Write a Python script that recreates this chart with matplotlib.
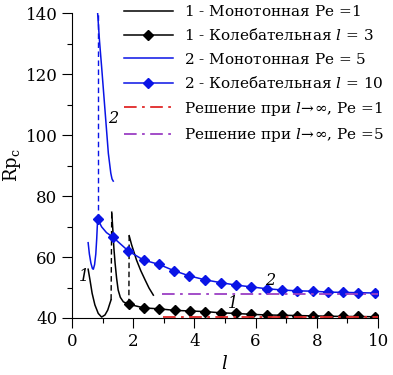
import numpy as np
import matplotlib.pyplot as plt
from matplotlib.ticker import MultipleLocator

plt.rcParams['font.family'] = ['DejaVu Serif']
plt.rcParams['mathtext.fontset'] = 'dejavuserif'

# curve 1, monotone Pe=1 (three branches)
m1a_x = [0.53, 0.59, 0.66, 0.75, 0.86, 0.97, 1.08, 1.17, 1.24, 1.28]
m1a_y = [56.0, 52.5, 48.1, 44.3, 41.5, 40.3, 41.0, 42.6, 44.8, 46.0]
m1b_x = [1.30, 1.33, 1.37, 1.41, 1.46, 1.51, 1.58, 1.68, 1.86]
m1b_y = [74.7, 70.0, 63.0, 58.0, 53.0, 49.2, 46.8, 45.3, 44.5]
m1c_x = [1.87, 1.95, 2.11, 2.25, 2.39, 2.52, 2.66]
m1c_y = [67.0, 64.0, 59.0, 55.5, 52.5, 49.8, 47.5]

# curve 2, monotone Pe=5 (two branches)
m2a_x = [0.53, 0.57, 0.62, 0.67, 0.70, 0.74, 0.78, 0.81, 0.84]
m2a_y = [64.7, 61.0, 58.0, 56.2, 56.0, 57.5, 61.0, 66.0, 72.5]
m2b_x = [0.84, 0.90, 0.97, 1.08, 1.19, 1.27, 1.31, 1.35]
m2b_y = [140.0, 131.0, 122.4, 108.2, 94.0, 87.5, 85.6, 84.9]

# oscillatory curves
o1_x = [1.86, 2.36, 2.86, 3.36, 3.86, 4.36, 4.86, 5.36, 5.86, 6.36,
        6.86, 7.36, 7.86, 8.36, 8.86, 9.36, 9.9]
o1_y = [44.5, 43.3, 43.0, 42.5, 42.3, 42.1, 41.7, 41.5, 41.2, 41.0,
        40.9, 40.8, 40.7, 40.6, 40.5, 40.5, 40.4]
o2_x = [0.84, 0.97, 1.13, 1.34, 1.84, 2.34, 2.84, 3.34, 3.84, 4.36, 4.86,
        5.36, 5.86, 6.36, 6.86, 7.36, 7.86, 8.36, 8.86, 9.36, 9.9]
o2_y = [72.5, 69.9, 68.0, 66.5, 62.0, 59.0, 57.6, 55.5, 53.8, 52.5, 51.6,
        50.8, 50.2, 49.6, 49.2, 48.9, 48.8, 48.5, 48.4, 48.3, 48.2]
o2_marks = [0] + list(range(3, len(o2_x)))

# asymptotic solutions l -> inf
inf1_x = [2.98, 10]
inf1_y = [40.35, 40.35]
inf5_x = [2.95, 10]
inf5_y = [47.8, 47.8]

fig = plt.figure(figsize=(3.93, 3.75), dpi=100)
ax = fig.add_axes([0.183, 0.152, 0.779, 0.813])

blue = '#0a14e6'
lw = 1.1
ax.plot(m1a_x, m1a_y, color='black', lw=lw,
        label=r'$\mathit{1}$ - Монотонная Pe =1')
ax.plot(m1b_x, m1b_y, color='black', lw=lw)
ax.plot(m1c_x, m1c_y, color='black', lw=lw)
ax.plot([m1a_x[-1], m1b_x[0]], [m1a_y[-1], m1b_y[0]], color='black', lw=1.0, ls=(0, (4, 2.5)))
ax.plot([m1b_x[-1], m1c_x[0]], [m1b_y[-1], m1c_y[0]], color='black', lw=1.0, ls=(0, (4, 2.5)))
ax.plot(o1_x, o1_y, color='black', lw=lw, marker='D', ms=5,
        label=r'$\mathit{1}$ - Колебательная $l$ = 3')

ax.plot(m2a_x, m2a_y, color=blue, lw=lw,
        label=r'$\mathit{2}$ - Монотонная Pe = 5')
ax.plot(m2b_x, m2b_y, color=blue, lw=lw)
ax.plot([o2_x[0], m2b_x[0]], [o2_y[0], m2b_y[0]], color=blue, lw=1.0, ls=(0, (4, 2.5)))
ax.plot(o2_x, o2_y, color=blue, lw=lw, marker='D', ms=5, markevery=o2_marks,
        label=r'$\mathit{2}$ - Колебательная $l$ = 10')

ax.plot(inf1_x, inf1_y, color='#e02828', lw=1.3, ls=(0, (7, 3, 1.5, 3)),
        label=r'Решение при $l\!\rightarrow\!\infty$, Pe =1')
ax.plot(inf5_x, inf5_y, color='#9b3fc4', lw=1.3, ls=(0, (7, 3, 1.5, 3)),
        label=r'Решение при $l\!\rightarrow\!\infty$, Pe =5')

ax.text(1.35, 105.5, '2', fontsize=11.5, style='italic', ha='center', va='center')
ax.text(0.39, 53.5, '1', fontsize=11.5, style='italic', ha='center', va='center')
ax.text(6.47, 52.2, '2', fontsize=11.5, style='italic', ha='center', va='center')
ax.text(5.25, 44.6, '1', fontsize=11.5, style='italic', ha='center', va='center')

ax.set_xlim(0, 10)
ax.set_ylim(40, 140)
ax.xaxis.set_major_locator(MultipleLocator(2))
ax.xaxis.set_minor_locator(MultipleLocator(1))
ax.yaxis.set_major_locator(MultipleLocator(20))
ax.yaxis.set_minor_locator(MultipleLocator(10))
ax.tick_params(which='major', direction='out', length=7, width=0.8, labelsize=12)
ax.tick_params(which='minor', direction='out', length=3.5, width=0.8)
ax.spines['top'].set_visible(False)
ax.spines['right'].set_visible(False)
ax.set_xlabel(r'$l$', fontsize=13)
ax.set_ylabel(r'$\mathrm{Rp}_\mathrm{c}$', fontsize=13, labelpad=2)

ax.legend(loc='upper left', bbox_to_anchor=(124 / 393, 1 - 4 / 375),
          bbox_transform=fig.transFigure, frameon=False, fontsize=11,
          handlelength=3.2, handletextpad=0.75, labelspacing=0.55,
          borderpad=0, borderaxespad=0)

fig.savefig('out.png', dpi=100)
